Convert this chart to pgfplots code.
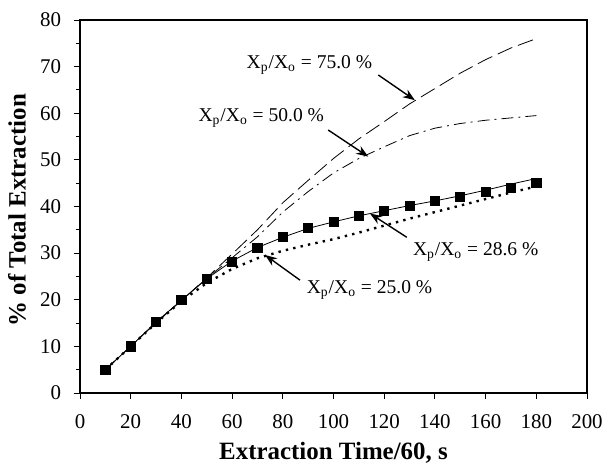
\documentclass[border=0pt]{standalone}
\usepackage{fontspec}
\setmainfont{Liberation Serif}
\usepackage{pgfplots}
\pgfplotsset{compat=1.18}
\usetikzlibrary{arrows.meta}

% experimental points and model curves
\pgfplotstableread{
x    y
10   5.0
20   10.0
30   15.2
40   19.9
50   24.5
60   28.2
70   31.2
80   33.5
90   35.4
100  36.7
110  38.0
120  39.1
130  40.2
140  41.2
150  42.1
160  43.1
170  44.0
180  45.0
}\expdata

\pgfplotstableread{
x    y
10   5.0
20   10.0
30   15.2
40   19.9
50   24.5
60   28.3
70   31.2
80   33.4
90   35.3
100  36.7
110  38.0
120  39.1
130  40.2
140  41.2
150  42.3
160  43.5
170  44.8
180  46.0
}\modelB

\pgfplotstableread{
x    y
10   5.0
20   10.0
30   15.0
40   19.7
50   23.6
60   26.6
70   28.9
80   30.5
90   31.8
100  33.0
110  34.4
120  35.9
130  37.4
140  38.8
150  40.2
160  41.6
170  43.0
180  44.3
}\modelA

\pgfplotstableread{
x    y
10   5.0
20   10.0
30   15.1
40   19.8
50   24.6
60   29.0
70   33.5
80   38.8
90   43.2
100  47.2
110  50.3
120  52.8
130  55.2
140  56.8
150  57.8
160  58.5
170  59.0
180  59.5
}\modelC

\pgfplotstableread{
x    y
10   5.0
20   10.0
30   15.1
40   19.8
50   24.7
60   29.8
70   35.0
80   40.8
90   45.6
100  50.3
110  54.5
120  58.2
130  62.0
140  65.3
150  68.6
160  71.5
170  74.0
180  76.0
}\modelD

\begin{document}
\begin{tikzpicture}
\begin{axis}[
  scale only axis,
  width=253.5bp, height=186.5bp,
  xmin=0, xmax=200, ymin=0, ymax=80,
  xtick={0,20,...,200}, ytick={0,10,...,80},
  minor y tick num=1,
  tick align=outside,
  xtick pos=bottom, ytick pos=left,
  major tick length=3bp, minor tick length=2bp,
  axis line style={line width=0.8pt},
  tick style={black, line width=0.5pt},
  /pgf/number format/assume math mode=true,
  tick label style={font=\fontsize{10.5}{12}\selectfont},
  xticklabel style={yshift=-4.5pt},
  yticklabel style={xshift=-3pt},
  xlabel={\bfseries Extraction Time/60, s},
  ylabel={\bfseries \% of Total Extraction},
  label style={font=\fontsize{12.5}{14}\selectfont},
  xlabel style={at={(axis description cs:0.5,-0.16)}, anchor=center},
  ylabel style={at={(axis description cs:-0.124,0.49)}, anchor=center},
  clip=false,
]
\addplot[black, line width=0.4pt, dash pattern=on 8bp off 3bp] table[x=x,y=y] {\modelD};
\addplot[black, line width=0.4pt, dash pattern=on 6bp off 2.5bp on 1bp off 2.5bp] table[x=x,y=y] {\modelC};
\addplot[black, line width=1.2pt, dash pattern=on 1.2pt off 2.6pt] table[x=x,y=y] {\modelA};
\addplot[black, line width=0.4pt] table[x=x,y=y] {\modelB};
\addplot[only marks, mark=square*, mark size=2.3bp, black] table[x=x,y=y] {\expdata};

\node[font=\fontsize{9.8}{11}\selectfont] at (axis cs:90.5,70.3) {X\textsubscript{p}/X\textsubscript{o} = 75.0 \%};
\node[font=\fontsize{9.8}{11}\selectfont] at (axis cs:71.5,58.9) {X\textsubscript{p}/X\textsubscript{o} = 50.0 \%};
\node[font=\fontsize{9.8}{11}\selectfont] at (axis cs:156.1,30.3) {X\textsubscript{p}/X\textsubscript{o} = 28.6 \%};
\node[font=\fontsize{9.8}{11}\selectfont] at (axis cs:114.2,22.1) {X\textsubscript{p}/X\textsubscript{o} = 25.0 \%};

\draw[-{Stealth[length=6bp,width=4.5bp]}, line width=0.7pt] (axis cs:117.7,68.2) -- (axis cs:132.1,62.8);
\draw[-{Stealth[length=6bp,width=4.5bp]}, line width=0.7pt] (axis cs:97.9,56.4) -- (axis cs:113.7,50.7);
\draw[-{Stealth[length=6bp,width=4.5bp]}, line width=0.7pt] (axis cs:128.9,33.4) -- (axis cs:114.4,38.5);
\draw[-{Stealth[length=6bp,width=4.5bp]}, line width=0.7pt] (axis cs:86.8,24.2) -- (axis cs:73.0,29.6);
\end{axis}
\pgfresetboundingbox
\path (-40bp,-37.5bp) rectangle (261.5bp,196.5bp);
\end{tikzpicture}
\end{document}
